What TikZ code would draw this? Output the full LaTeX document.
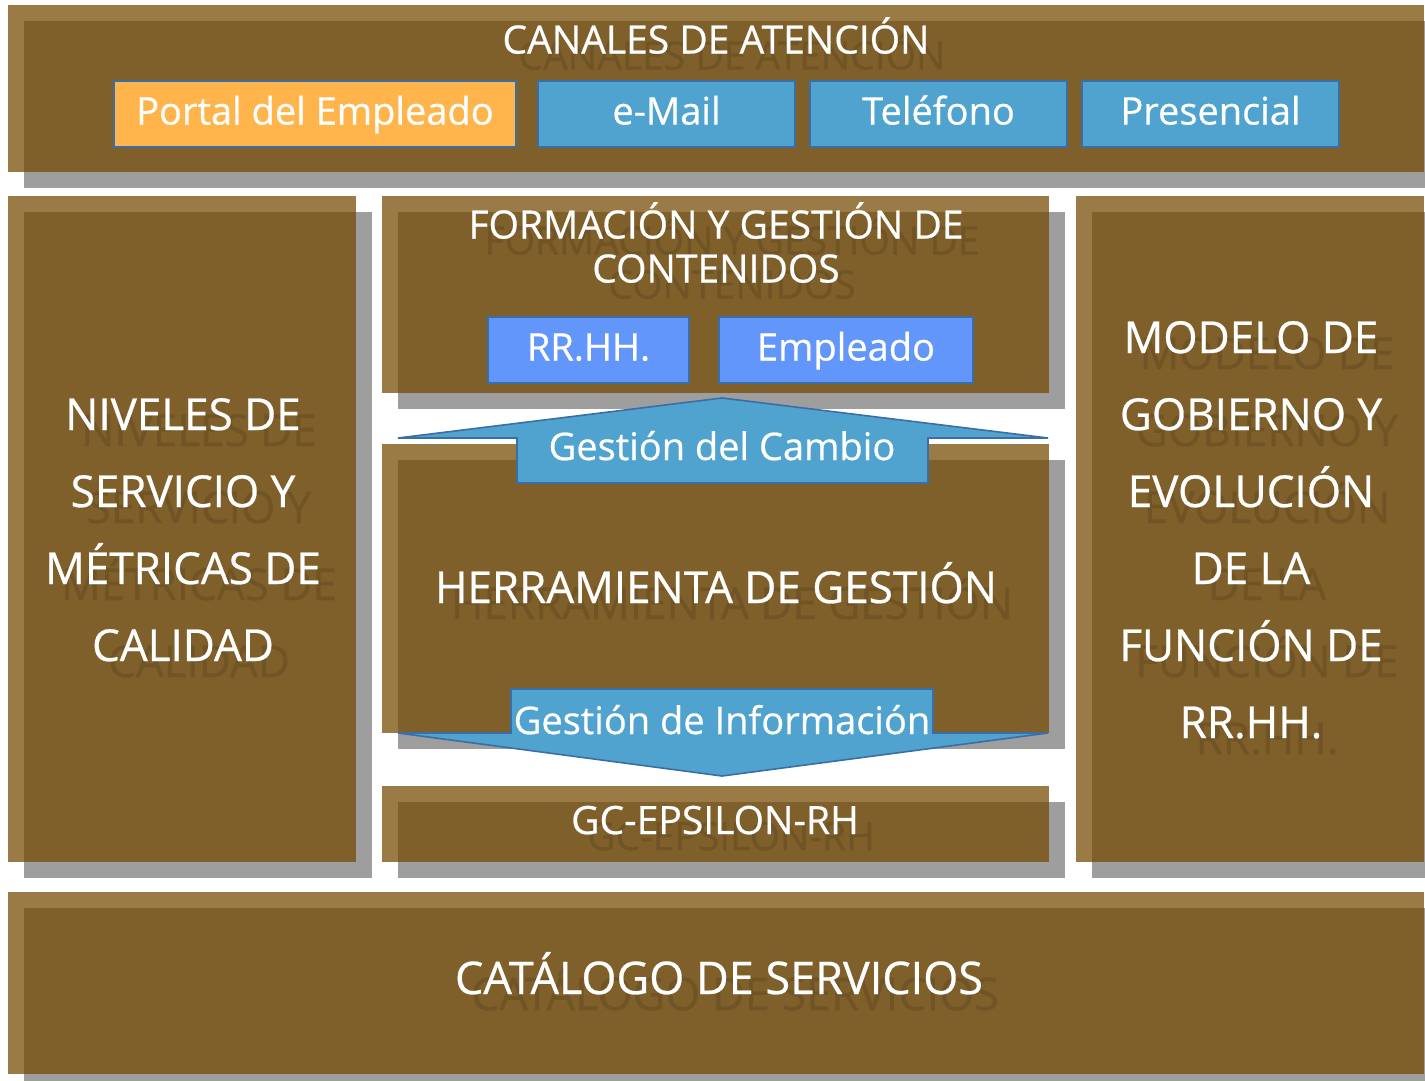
\documentclass[tikz,border=0pt]{standalone}
\usepackage{fontspec}
\setmainfont[BoldFont={Open Sans}, BoldFeatures={FakeBold=0.6}]{Open Sans}
\definecolor{boxc}{RGB}{117,73,0}
\definecolor{shad}{RGB}{158,158,158}
\definecolor{ghostc}{RGB}{112,84,38}
\definecolor{orng}{RGB}{255,181,76}
\definecolor{chblue}{RGB}{79,163,206}
\definecolor{lblue}{RGB}{98,150,250}
\definecolor{edgec}{RGB}{58,110,165}
\tikzset{
  shadowbox/.style={fill=shad},
  mainbox/.style={fill=boxc, fill opacity=0.73},
  chanbox/.style={draw=edgec, line width=1.6pt, fill=chblue},
  orbox/.style={chanbox, fill=orng},
  lbbox/.style={chanbox, fill=lblue},
  arrowshape/.style={draw=edgec, line width=1.6pt, fill=chblue, line join=miter},
  lbl/.style={text=white, anchor=base, inner sep=0pt, font=\fontsize{38}{44}\selectfont\bfseries},
  toplbl/.style={lbl, font=\fontsize{39}{44}\selectfont\bfseries},
  biglbl/.style={lbl, font=\fontsize{44}{50}\selectfont\bfseries},
  catlbl/.style={lbl, font=\fontsize{45}{50}\selectfont\bfseries},
  gh/.style={text=ghostc},
}
% box with drop shadow
\newcommand\brbox[4]{%
  \fill[shadowbox] ({#1+16},{#2+16}) rectangle ({#3+16},{#4+16});
  \fill[mainbox] (#1,#2) rectangle (#3,#4);}
% text with ghost shadow
\newcommand\btext[5]{%
  \node[#1, gh] (#2-sh) at ({#3+16},{#4+16}) {#5};
  \node[#1] (#2) at (#3,#4) {#5};}
\begin{document}
\begin{tikzpicture}[x=1pt,y=-1pt]
\useasboundingbox (0,0) rectangle (1425,1080);
\clip (0,0) rectangle (1425,1080);
% main boxes
\brbox{8}{5}{1424}{172}
\brbox{8}{196}{356}{862}
\brbox{382}{196}{1049}{393}
\brbox{382}{444}{1049}{733}
\brbox{382}{786}{1049}{862}
\brbox{1076}{196}{1424}{862}
\brbox{8}{892}{1424}{1074}
% ghost texts + white texts of the brown boxes
\btext{toplbl}{canales}{716}{53.5}{CANALES DE ATENCIÓN}
\btext{toplbl}{form1}{716}{238.5}{FORMACIÓN Y GESTIÓN DE}
\btext{toplbl}{form2}{716}{282.5}{CONTENIDOS}
\btext{biglbl}{herr}{716}{603}{HERRAMIENTA DE GESTIÓN}
\btext{toplbl}{gc}{715}{834}{GC-EPSILON-RH}
\btext{biglbl}{niv1}{183}{430}{NIVELES DE}
\btext{biglbl}{niv2}{183}{507}{SERVICIO Y}
\btext{biglbl}{niv3}{183}{584}{MÉTRICAS DE}
\btext{biglbl}{niv4}{183}{661}{CALIDAD}
\btext{biglbl}{mod1}{1251}{353}{MODELO DE}
\btext{biglbl}{mod2}{1251}{430}{GOBIERNO Y}
\btext{biglbl}{mod3}{1251}{507}{EVOLUCIÓN}
\btext{biglbl}{mod4}{1251}{584}{DE LA}
\btext{biglbl}{mod5}{1251}{661}{FUNCIÓN DE}
\btext{biglbl}{mod6}{1251}{738}{RR.HH.}
\btext{catlbl}{cat}{719}{994}{CATÁLOGO DE SERVICIOS}
% channel boxes
\draw[orbox] (114,81) rectangle (516,147);
\draw[chanbox] (538,81) rectangle (795,147);
\draw[chanbox] (810,81) rectangle (1067,147);
\draw[chanbox] (1082,81) rectangle (1339,147);
\node[lbl] (portal) at (315,124.5) {Portal del Empleado};
\node[lbl] (email) at (666.5,124.5) {e-Mail};
\node[lbl] (tel) at (938.5,124.5) {Teléfono};
\node[lbl] (pres) at (1210.5,124.5) {Presencial};
% RR.HH. / Empleado
\draw[lbbox] (488,317) rectangle (689,383);
\draw[lbbox] (719,317) rectangle (973,383);
\node[lbl] (rrhh) at (588.5,360.5) {RR.HH.};
\node[lbl] (empl) at (846,360.5) {Empleado};
% arrows
\draw[arrowshape] (398,438) -- (722,398) -- (1048,438) -- (928,438) -- (928,483) -- (517,483) -- (517,438) -- cycle;
\node[lbl] (cambio) at (722,460) {Gestión del Cambio};
\draw[arrowshape] (511,689) -- (933,689) -- (933,733) -- (1048,733) -- (722,776) -- (398,733) -- (511,733) -- cycle;
\node[lbl] (info) at (722,734) {Gestión de Información};
\end{tikzpicture}
\end{document}
